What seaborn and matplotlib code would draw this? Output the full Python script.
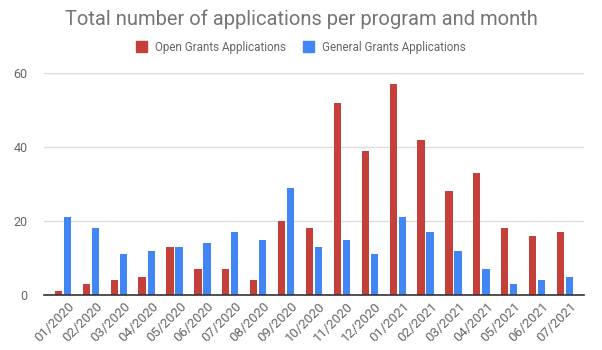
import pandas as pd
import matplotlib.pyplot as plt
import matplotlib.transforms as mtransforms
import seaborn as sns

months = ["01/2020", "02/2020", "03/2020", "04/2020", "05/2020", "06/2020", "07/2020",
          "08/2020", "09/2020", "10/2020", "11/2020", "12/2020", "01/2021", "02/2021",
          "03/2021", "04/2021", "05/2021", "06/2021", "07/2021"]
open_grants = [1, 3, 4, 5, 13, 7, 7, 4, 20, 18, 52, 39, 57, 42, 28, 33, 18, 16, 17]
general_grants = [21, 18, 11, 12, 13, 14, 17, 15, 29, 13, 15, 11, 21, 17, 12, 7, 3, 4, 5]
series = ["Open Grants Applications", "General Grants Applications"]
colors = ["#c5403a", "#4285f4"]

df = pd.DataFrame({
    "month": months * 2,
    "count": open_grants + general_grants,
    "program": [series[0]] * len(months) + [series[1]] * len(months),
})

sns.set_style("white")
plt.rcParams["font.family"] = ["Roboto", "DejaVu Sans"]

fig = plt.figure(figsize=(6.02, 3.5), dpi=100)
ax = fig.add_axes([44 / 602, 1 - 295 / 350, 540 / 602, 222 / 350])

sns.barplot(data=df, x="month", y="count", hue="program", hue_order=series,
            palette=colors, width=0.65, gap=0.2, linewidth=0, ax=ax,
            legend=False, saturation=1)

ax.set_ylim(0, 60)
ax.set_xlim(-0.68, len(months) - 0.32)
ax.set_yticks([0, 20, 40, 60])
ax.grid(axis="y", color="#dcdcdc", linewidth=1)
ax.set_axisbelow(True)
for s in ["top", "right", "left"]:
    ax.spines[s].set_visible(False)
ax.spines["bottom"].set_color("#333333")
ax.spines["bottom"].set_linewidth(1.2)
ax.tick_params(axis="both", length=0, colors="#666666", labelsize=9)
ax.tick_params(axis="x", labelsize=9.5)
ax.tick_params(axis="y", pad=12)
plt.setp(ax.get_xticklabels(), rotation=45, ha="right", rotation_mode="anchor")
# nudge the rotated labels a few pixels right
shift = mtransforms.ScaledTranslation(5 / 100, 0, fig.dpi_scale_trans)
for lbl in ax.get_xticklabels():
    lbl.set_transform(lbl.get_transform() + shift)
ax.set_xlabel("")
ax.set_ylabel("")

fig.text(0.5, 1 - 19 / 350, "Total number of applications per program and month",
         ha="center", va="center", fontsize=14.5, color="#757575")

handles = [plt.Rectangle((0, 0), 1, 1, color=c) for c in colors]
fig.legend(handles, series, loc="center", bbox_to_anchor=(0.5, 1 - 47 / 350), ncol=2,
           frameon=False, fontsize=8.4, labelcolor="#666666", handlelength=0.95,
           handleheight=0.95, handletextpad=0.7, columnspacing=1.4)

fig.savefig("out.png", dpi=100)
